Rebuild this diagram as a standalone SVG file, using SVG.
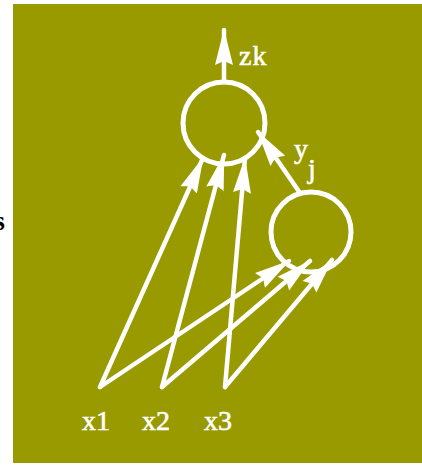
<svg xmlns="http://www.w3.org/2000/svg" width="422" height="465" viewBox="0 0 422 465">
<defs>
<marker id="ah" markerUnits="userSpaceOnUse" markerWidth="36" markerHeight="19" viewBox="0 0 36 19" refX="35" refY="9.5" orient="auto">
<path d="M0,0.5 L36,9.5 L0,18.5 L4,9.5 Z" fill="#ffffff"/>
</marker>
</defs>
<style>
.bg{fill:#999900}
.node{fill:none;stroke:#ffffff;stroke-width:5}
.edge{fill:none;stroke:#ffffff;stroke-width:4.5;stroke-linecap:round;marker-end:url(#ah)}
.lbl{font-family:"Liberation Serif",serif;fill:#ffffff;stroke:#ffffff;stroke-width:0.6;font-size:28px}
.side{font-family:"Liberation Serif",serif;fill:#000000;font-size:28px;font-weight:bold}
</style>
<rect x="0" y="0" width="422" height="465" fill="#ffffff"/>
<rect class="bg" x="13" y="4" width="409" height="459"/>
<text class="side" x="5" y="230" text-anchor="end">s</text>
<g id="out">
<circle class="node" cx="224" cy="123" r="41"/>
</g>
<g id="hidden">
<circle class="node" cx="311" cy="232" r="40"/>
</g>
<g id="connectors">
<line class="edge" x1="224" y1="82" x2="224" y2="30"/>
<line class="edge" x1="300" y1="193" x2="258" y2="132"/>
<line class="edge" x1="100" y1="387" x2="203" y2="158"/>
<line class="edge" x1="162" y1="387" x2="224" y2="155"/>
<line class="edge" x1="225" y1="387" x2="245" y2="158"/>
<line class="edge" x1="100" y1="387" x2="289" y2="261"/>
<line class="edge" x1="162" y1="387" x2="310" y2="261"/>
<line class="edge" x1="225" y1="387" x2="332" y2="260"/>
</g>
<g id="labels">
<text class="lbl" x="239" y="65" letter-spacing="1">zk</text>
<text class="lbl" x="294" y="158">y</text>
<text class="lbl" x="308" y="178">j</text>
<text class="lbl" x="82" y="430">x1</text>
<text class="lbl" x="142" y="430">x2</text>
<text class="lbl" x="204" y="430">x3</text>
</g>
</svg>
